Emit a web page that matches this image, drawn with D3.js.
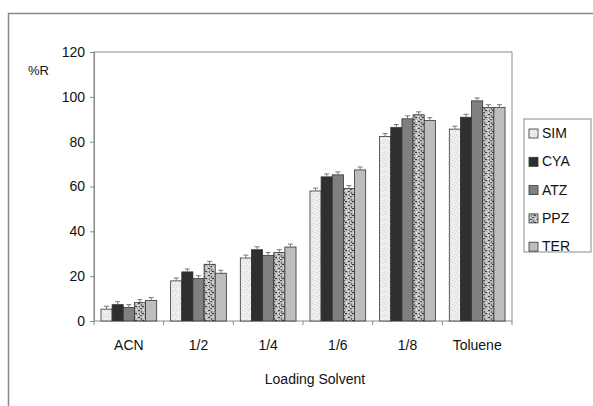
<!DOCTYPE html>
<html><head><meta charset="utf-8">
<script src="https://cdn.jsdelivr.net/npm/d3@7/dist/d3.min.js"></script>
<style>body{margin:0;background:#fff}svg{display:block}text{font-family:"Liberation Sans",Arial,sans-serif;fill:#111}</style>
</head><body><svg id="c" width="593" height="406"></svg>
<script>
const categories = ["ACN","1/2","1/4","1/6","1/8","Toluene"];
const seriesNames = ["SIM","CYA","ATZ","PPZ","TER"];
const SIM = [5.3, 17.9, 28.1, 58.0, 82.3, 85.6];
const CYA = [7.3, 21.9, 31.8, 64.3, 86.3, 90.9];
const ATZ = [6.0, 18.9, 29.2, 65.2, 90.2, 98.2];
const PPZ = [8.2, 25.3, 30.5, 59.1, 92.0, 95.2];
const TER = [9.2, 21.3, 33.0, 67.4, 89.4, 95.2];
const ERR = [1.3, 1.3, 1.3, 1.3, 1.3];
const yTicks = [0,20,40,60,80,100,120];
const seriesValues = [SIM, CYA, ATZ, PPZ, TER];

const svg = d3.select("#c");
const defs = svg.append("defs");
const p1 = defs.append("pattern").attr("id","pSIM").attr("patternUnits","userSpaceOnUse").attr("width",6).attr("height",6);
p1.append("rect").attr("width",6).attr("height",6).attr("fill","#efefef");
[[1,1],[4,2],[2,4],[5,5],[0,3]].forEach(([x,y])=>p1.append("rect").attr("x",x).attr("y",y).attr("width",1).attr("height",1).attr("fill","#cfcfcf"));
const p2 = defs.append("pattern").attr("id","pPPZ").attr("patternUnits","userSpaceOnUse").attr("width",7).attr("height",7);
p2.append("rect").attr("width",7).attr("height",7).attr("fill","#b8b8b8");
[[0,0,2,1,"#555"],[3,1,1,2,"#e8e8e8"],[5,2,2,1,"#444"],[1,3,1,2,"#666"],[4,4,2,1,"#ddd"],[2,5,2,1,"#3a3a3a"],[6,5,1,2,"#777"],[0,6,1,1,"#eee"],[5,0,1,1,"#eee"]].forEach(([x,y,w,h,c])=>p2.append("rect").attr("x",x).attr("y",y).attr("width",w).attr("height",h).attr("fill",c));
const fills = ["url(#pSIM)","#2f2f2f","#808080","url(#pPPZ)","#bdbdbd"];

svg.append("path").attr("d","M8.5,406 V13.5 H593").attr("fill","none").attr("stroke","#8a8a8a").attr("stroke-width",1.5);

const L=94, R=512, T=52, B=321;
const x0 = d3.scaleBand().domain(categories).range([L,R]).paddingInner(0.2).paddingOuter(0.1);
const x1 = d3.scaleBand().domain(seriesNames).range([0,x0.bandwidth()]);
const y = d3.scaleLinear().domain([0,120]).range([B,T]);

svg.append("rect").attr("x",L).attr("y",T).attr("width",R-L).attr("height",B-T).attr("fill","none").attr("stroke","#8a8a8a").attr("stroke-width",1);

const g = svg.append("g");
seriesNames.forEach((s,si)=>{
  const vals = seriesValues[si];
  g.selectAll(null).data(categories).enter().append("rect")
    .attr("x",c=>x0(c)+x1(s)).attr("y",(c,i)=>y(vals[i]))
    .attr("width",x1.bandwidth()).attr("height",(c,i)=>B-y(vals[i]))
    .attr("fill",fills[si]).attr("stroke","#333").attr("stroke-width",0.8);
  const eg = g.selectAll(null).data(categories).enter().append("g");
  eg.append("line").attr("x1",c=>x0(c)+x1(s)+x1.bandwidth()/2).attr("x2",c=>x0(c)+x1(s)+x1.bandwidth()/2)
    .attr("y1",(c,i)=>y(vals[i]+ERR[si])).attr("y2",(c,i)=>y(vals[i])).attr("stroke","#777");
  eg.append("line").attr("x1",c=>x0(c)+x1(s)+x1.bandwidth()/2-2.5).attr("x2",c=>x0(c)+x1(s)+x1.bandwidth()/2+2.5)
    .attr("y1",(c,i)=>y(vals[i]+ERR[si])).attr("y2",(c,i)=>y(vals[i]+ERR[si])).attr("stroke","#777");
});

const ya = svg.append("g").attr("transform",`translate(${L},0)`).call(d3.axisLeft(y).tickValues(yTicks).tickSize(4).tickPadding(5));
ya.select(".domain").attr("stroke","#8a8a8a");
ya.selectAll(".tick line").attr("stroke","#8a8a8a");
ya.selectAll("text").attr("font-size",14).attr("fill","#111");

const step = x0.step();
const bounds = d3.range(categories.length+1).map(i=>L+i*step);
svg.selectAll(null).data(bounds).enter().append("line").attr("x1",d=>d).attr("x2",d=>d).attr("y1",B).attr("y2",B+4).attr("stroke","#8a8a8a");
svg.selectAll(null).data(categories).enter().append("text")
  .attr("x",c=>x0(c)+x0.bandwidth()/2).attr("y",350).attr("text-anchor","middle").attr("font-size",14).text(c=>c);

svg.append("text").attr("x",28).attr("y",75).attr("font-size",13).text("%R");
svg.append("text").attr("x",315).attr("y",384).attr("text-anchor","middle").attr("font-size",14).text("Loading Solvent");

svg.append("rect").attr("x",524).attr("y",119).attr("width",67).attr("height",133).attr("fill","#fff").attr("stroke","#8a8a8a");
seriesNames.forEach((s,i)=>{
  const cy = 133 + i*28.3;
  svg.append("rect").attr("x",529).attr("y",cy-4).attr("width",9).attr("height",9).attr("fill",fills[i]).attr("stroke","#333").attr("stroke-width",0.8);
  svg.append("text").attr("x",542).attr("y",cy+5).attr("font-size",14).text(s);
});
</script></body></html>
